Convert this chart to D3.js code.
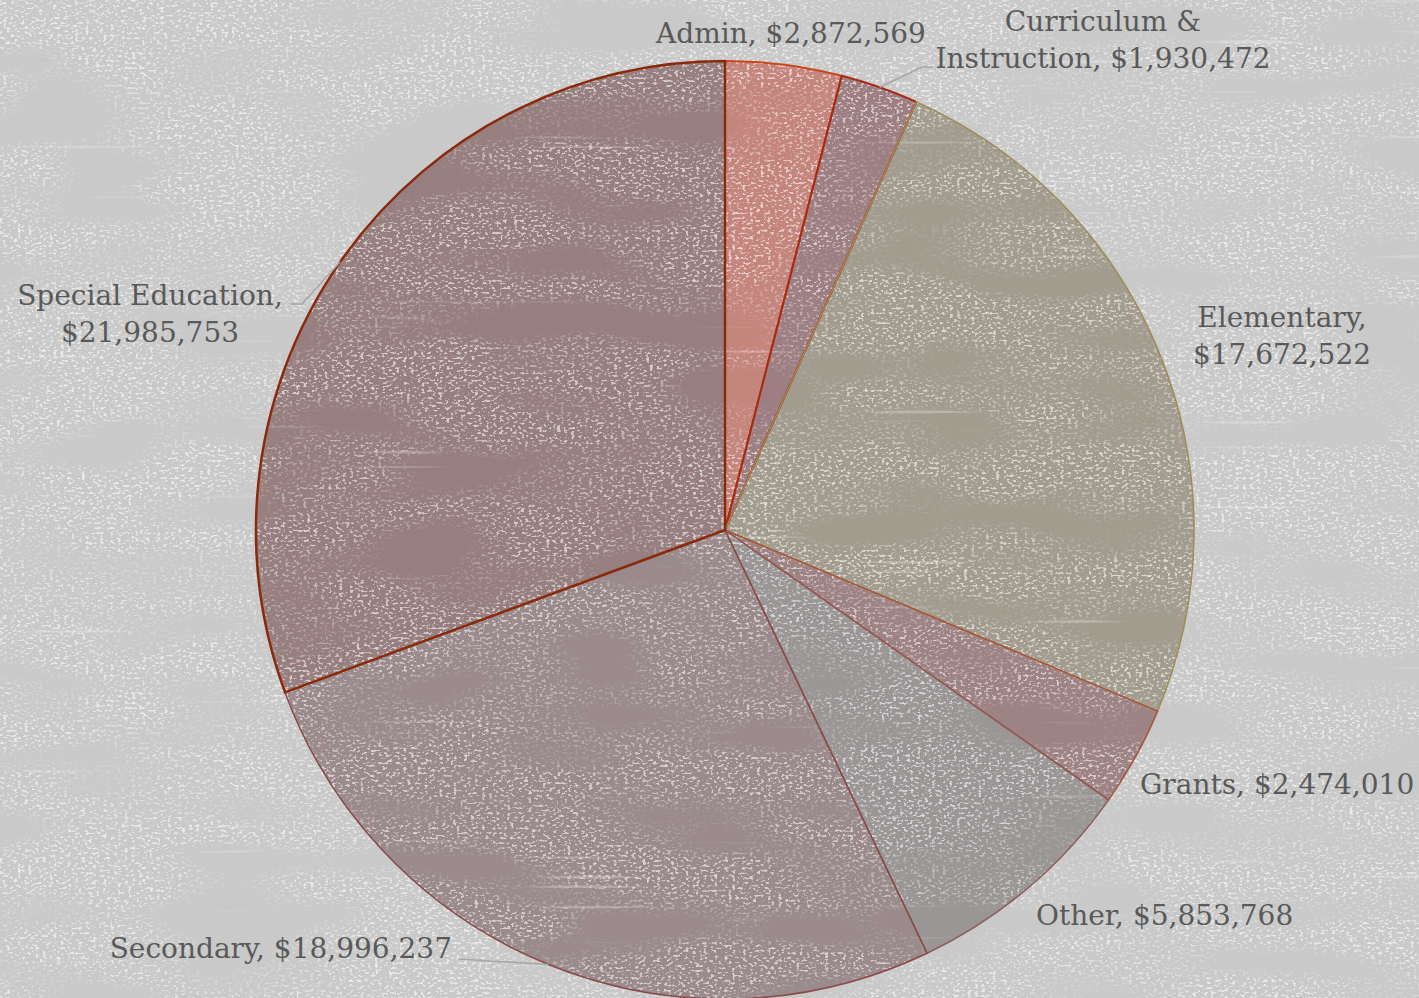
<!DOCTYPE html>
<html>
<head>
<meta charset="utf-8">
<script src="https://cdn.jsdelivr.net/npm/d3@7"></script>
<style>
  html, body { margin: 0; padding: 0; background: #c9c9c9; }
  svg { display: block; }
</style>
</head>
<body>
<svg id="chart" width="1419" height="998"></svg>
<script>
// ---- data ----
const categories = ["Admin", "Curriculum & Instruction", "Elementary", "Grants", "Other", "Secondary", "Special Education"];
const values = [2872569, 1930472, 17672522, 2474010, 5853768, 18996237, 21985753];

// ---- styles ----
const fills   = ["#c4857c", "#9d7e82", "#a19c8e", "#9e8384", "#9a9696", "#9a8a8c", "#977f7f"];
const strokes = ["#c9471c", "#a82a12", "#a08a55", "#a6553c", "#8f5a5a", "#8a4a4a", "#8a2a0c"];
const strokeW = [2, 2, 1.5, 1.5, 1.5, 1.5, 2.5];

// label layout: lines split, anchor, position, optional leader elbow
const labelLayout = [
  { lines: ["Admin, {v}"], anchor: "middle", x: 791, y: 43 },
  { lines: ["Curriculum &", "Instruction, {v}"], anchor: "middle", x: 1103, y: 31, leader: [[922, 67], [933, 67]] },
  { lines: ["Elementary,", "{v}"], anchor: "middle", x: 1282, y: 327 },
  { lines: ["Grants, {v}"], anchor: "start", x: 1140, y: 794 },
  { lines: ["Other, {v}"], anchor: "start", x: 1036, y: 925 },
  { lines: ["Secondary, {v}"], anchor: "end", x: 452, y: 958, leader: [[458, 959]] },
  { lines: ["Special Education,", "{v}"], anchor: "middle", x: 150, y: 305, leader: [[302, 304], [290, 304]] }
];

const W = 1419, H = 998;
const cx = 725, cy = 530, R = 469;
const lineH = 37;

const svg = d3.select("#chart");
const defs = svg.append("defs");

// grunge texture filters
const f1 = defs.append("filter").attr("id", "speckle")
  .attr("filterUnits", "userSpaceOnUse").attr("x", 0).attr("y", 0).attr("width", W).attr("height", H);
f1.append("feTurbulence").attr("type", "fractalNoise").attr("baseFrequency", "0.28 0.4")
  .attr("numOctaves", 2).attr("seed", 11).attr("result", "n1");
f1.append("feColorMatrix").attr("in", "n1").attr("type", "matrix")
  .attr("values", "0 0 0 0 1  0 0 0 0 1  0 0 0 0 1  8 0 0 0 -4.4").attr("result", "spk");
f1.append("feTurbulence").attr("type", "fractalNoise").attr("baseFrequency", "0.006 0.02")
  .attr("numOctaves", 2).attr("seed", 4).attr("result", "n2");
f1.append("feColorMatrix").attr("in", "n2").attr("type", "matrix")
  .attr("values", "0 0 0 0 1  0 0 0 0 1  0 0 0 0 1  0 0 4 0 -1.3").attr("result", "mask");
f1.append("feComposite").attr("in", "spk").attr("in2", "mask").attr("operator", "in");

const f2 = defs.append("filter").attr("id", "streaks")
  .attr("filterUnits", "userSpaceOnUse").attr("x", 0).attr("y", 0).attr("width", W).attr("height", H);
f2.append("feTurbulence").attr("type", "fractalNoise").attr("baseFrequency", "0.006 0.2")
  .attr("numOctaves", 1).attr("seed", 23).attr("result", "n3");
f2.append("feColorMatrix").attr("in", "n3").attr("type", "matrix")
  .attr("values", "0 0 0 0 1  0 0 0 0 1  0 0 0 0 1  12 0 0 0 -8.6");

// background
svg.append("rect").attr("width", W).attr("height", H).attr("fill", "#c9c9c9");

const pie = d3.pie().sort(null).value(d => d);
const arcs = pie(values);
const arc = d3.arc().innerRadius(0).outerRadius(R);

const g = svg.append("g").attr("transform", `translate(${cx},${cy})`);

// fills
g.selectAll("path.fill").data(arcs).join("path")
  .attr("class", "fill")
  .attr("d", arc)
  .attr("fill", (d, i) => fills[i]);

// texture overlay (over background and pie)
svg.append("rect").attr("width", W).attr("height", H).attr("fill", "#fff")
  .attr("filter", "url(#speckle)").attr("opacity", 0.6);
svg.append("rect").attr("width", W).attr("height", H).attr("fill", "#fff")
  .attr("filter", "url(#streaks)").attr("opacity", 0.25);

// strokes on top
const g2 = svg.append("g").attr("transform", `translate(${cx},${cy})`);
g2.selectAll("path.edge").data(arcs).join("path")
  .attr("class", "edge")
  .attr("d", arc)
  .attr("fill", "none")
  .attr("stroke", (d, i) => strokes[i])
  .attr("stroke-width", (d, i) => strokeW[i])
  .attr("stroke-linejoin", "round");

// labels
const fmt = d3.format("$,");
const labels = svg.append("g");
arcs.forEach((d, i) => {
  const L = labelLayout[i];
  if (L.leader) {
    const mid = (d.startAngle + d.endAngle) / 2;
    const p0 = d3.pointRadial(mid, R);
    const pts = [[cx + p0[0], cy + p0[1]]].concat(L.leader);
    labels.append("path")
      .attr("d", d3.line()(pts))
      .attr("fill", "none")
      .attr("stroke", "#a6a6a6")
      .attr("stroke-width", 1.5);
  }
  const t = labels.append("text")
    .attr("x", L.x).attr("y", L.y)
    .attr("text-anchor", L.anchor)
    .attr("fill", "#595959")
    .style("font-family", "'Rockwell', 'DejaVu Serif', serif")
    .style("font-size", "28px");
  L.lines.forEach((ln, k) => {
    t.append("tspan")
      .attr("x", L.x)
      .attr("dy", k === 0 ? 0 : lineH)
      .text(ln.replace("{v}", fmt(values[i])));
  });
});
</script>
</body>
</html>
